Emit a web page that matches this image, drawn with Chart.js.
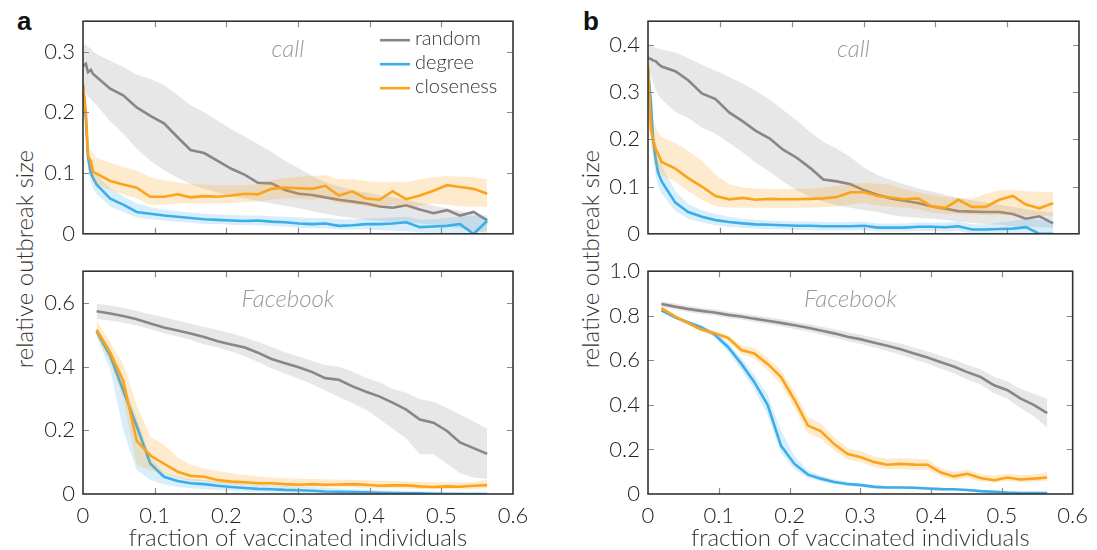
<!DOCTYPE html>
<html>
<head>
<meta charset="utf-8">
<script src="https://cdn.jsdelivr.net/npm/chart.js@4.4.1/dist/chart.umd.min.js"></script>
<style>
  body { margin: 0; background: #fff; }
  #page { position: relative; width: 1097px; height: 550px; overflow: hidden; font-family: Lato, "Open Sans", sans-serif; }
  canvas { position: absolute; }
  .tag { position: absolute; font-family: "Liberation Sans", Arial, sans-serif; font-weight: bold; font-size: 26px; color: #111; }
  .ytitle { position: absolute; width: 300px; text-align: center; font-weight: 300; font-size: 24px; color: #333;
            transform: translate(-50%, -50%) rotate(-90deg); white-space: nowrap; }
</style>
</head>
<body>
<div id="page">
  <div class="tag" style="left:17px;top:6px">a</div>
  <div class="tag" style="left:583px;top:6px">b</div>
  <div class="ytitle" style="left:23px;top:259px">relative outbreak size</div>
  <div class="ytitle" style="left:589px;top:259px">relative outbreak size</div>
  <canvas id="aCall" width="560" height="255" style="left:0;top:0"></canvas>
  <canvas id="aFb" width="560" height="300" style="left:0;top:250px"></canvas>
  <canvas id="bCall" width="537" height="255" style="left:560px;top:0"></canvas>
  <canvas id="bFb" width="537" height="300" style="left:560px;top:250px"></canvas>
</div>
<script>
// fraction of vaccinated individuals
const xsMain = [0.019, 0.038, 0.056, 0.075, 0.094, 0.113, 0.132, 0.150, 0.169, 0.188,
                0.207, 0.226, 0.244, 0.263, 0.282, 0.301, 0.320, 0.338, 0.357, 0.376,
                0.395, 0.414, 0.432, 0.451, 0.470, 0.489, 0.508, 0.526, 0.545, 0.564];
// call networks are also sampled close to zero
const xsCall = [0, 0.004, 0.007, 0.011, 0.014].concat(xsMain);

// (a) call
const aCallRandom   = [0.276, 0.280, 0.266, 0.270, 0.263, 0.258, 0.239, 0.228, 0.208, 0.194, 0.182, 0.159, 0.138, 0.133, 0.120, 0.107, 0.097, 0.084, 0.083, 0.072, 0.066, 0.064, 0.060, 0.056, 0.053, 0.050, 0.045, 0.043, 0.047, 0.040, 0.034, 0.039, 0.030, 0.036, 0.022];
const aCallRandomHi = [0.310, 0.312, 0.308, 0.305, 0.300, 0.296, 0.285, 0.275, 0.262, 0.255, 0.245, 0.228, 0.212, 0.200, 0.186, 0.172, 0.160, 0.148, 0.135, 0.120, 0.108, 0.095, 0.085, 0.078, 0.072, 0.068, 0.064, 0.060, 0.056, 0.051, 0.046, 0.042, 0.038, 0.032, 0.026];
const aCallRandomLo = [0.240, 0.232, 0.226, 0.222, 0.218, 0.212, 0.185, 0.165, 0.140, 0.120, 0.105, 0.092, 0.082, 0.074, 0.068, 0.062, 0.058, 0.054, 0.050, 0.046, 0.042, 0.037, 0.033, 0.029, 0.026, 0.023, 0.021, 0.020, 0.019, 0.017, 0.015, 0.012, 0.009, 0.005, 0.001];
const aCallDegree   = [0.245, 0.190, 0.125, 0.100, 0.092, 0.081, 0.058, 0.048, 0.036, 0.033, 0.030, 0.028, 0.026, 0.024, 0.023, 0.022, 0.021, 0.022, 0.020, 0.019, 0.017, 0.016, 0.017, 0.013, 0.014, 0.016, 0.016, 0.017, 0.019, 0.011, 0.012, 0.013, 0.016, 0.000, 0.021];
const aCallDegreeHi = [0.248, 0.210, 0.145, 0.122, 0.110, 0.098, 0.075, 0.062, 0.050, 0.044, 0.040, 0.037, 0.035, 0.033, 0.032, 0.031, 0.030, 0.030, 0.029, 0.028, 0.027, 0.026, 0.026, 0.024, 0.024, 0.025, 0.026, 0.027, 0.028, 0.024, 0.024, 0.026, 0.028, 0.030, 0.030];
const aCallDegreeLo = [0.240, 0.165, 0.105, 0.085, 0.075, 0.065, 0.045, 0.036, 0.027, 0.024, 0.022, 0.020, 0.018, 0.016, 0.016, 0.015, 0.014, 0.014, 0.013, 0.012, 0.010, 0.009, 0.009, 0.007, 0.007, 0.007, 0.006, 0.005, 0.004, 0.002, 0.001, 0.000, 0.000, 0.000, 0.005];
const aCallClose    = [0.246, 0.200, 0.128, 0.120, 0.102, 0.099, 0.087, 0.081, 0.076, 0.061, 0.061, 0.065, 0.060, 0.062, 0.061, 0.063, 0.066, 0.065, 0.074, 0.076, 0.075, 0.074, 0.079, 0.063, 0.070, 0.058, 0.056, 0.070, 0.057, 0.063, 0.071, 0.080, 0.077, 0.074, 0.066];
const aCallCloseHi  = [0.250, 0.215, 0.145, 0.138, 0.133, 0.125, 0.117, 0.110, 0.104, 0.093, 0.088, 0.085, 0.082, 0.081, 0.080, 0.080, 0.080, 0.082, 0.088, 0.092, 0.094, 0.095, 0.097, 0.090, 0.090, 0.087, 0.085, 0.086, 0.085, 0.090, 0.093, 0.095, 0.094, 0.093, 0.090];
const aCallCloseLo  = [0.240, 0.185, 0.110, 0.100, 0.088, 0.082, 0.072, 0.065, 0.058, 0.048, 0.048, 0.050, 0.050, 0.050, 0.050, 0.050, 0.052, 0.053, 0.056, 0.058, 0.058, 0.056, 0.058, 0.050, 0.050, 0.045, 0.044, 0.048, 0.045, 0.046, 0.050, 0.048, 0.045, 0.045, 0.044];

// (a) Facebook
const aFbRandom   = [0.574, 0.567, 0.559, 0.549, 0.536, 0.523, 0.514, 0.504, 0.493, 0.480, 0.470, 0.460, 0.444, 0.424, 0.411, 0.398, 0.383, 0.364, 0.359, 0.338, 0.321, 0.306, 0.287, 0.265, 0.234, 0.224, 0.198, 0.162, 0.144, 0.126];
const aFbRandomHi = [0.598, 0.592, 0.585, 0.575, 0.565, 0.555, 0.545, 0.535, 0.525, 0.515, 0.505, 0.492, 0.478, 0.462, 0.445, 0.432, 0.418, 0.405, 0.400, 0.385, 0.365, 0.350, 0.330, 0.318, 0.298, 0.290, 0.270, 0.250, 0.228, 0.205];
const aFbRandomLo = [0.550, 0.545, 0.538, 0.530, 0.518, 0.505, 0.495, 0.485, 0.470, 0.460, 0.448, 0.432, 0.415, 0.395, 0.378, 0.362, 0.345, 0.325, 0.305, 0.285, 0.265, 0.235, 0.205, 0.175, 0.125, 0.125, 0.095, 0.065, 0.052, 0.048];
const aFbDegree   = [0.511, 0.434, 0.326, 0.213, 0.095, 0.054, 0.041, 0.034, 0.031, 0.026, 0.022, 0.019, 0.016, 0.015, 0.013, 0.012, 0.010, 0.008, 0.007, 0.006, 0.005, 0.004, 0.003, 0.002, 0.002, 0.001, 0.000, 0.000, 0.000, 0.000];
const aFbDegreeHi = [0.525, 0.455, 0.350, 0.240, 0.115, 0.068, 0.055, 0.048, 0.044, 0.040, 0.036, 0.032, 0.029, 0.027, 0.025, 0.023, 0.021, 0.019, 0.017, 0.015, 0.013, 0.012, 0.011, 0.010, 0.009, 0.008, 0.006, 0.005, 0.004, 0.004];
const aFbDegreeLo = [0.495, 0.390, 0.200, 0.075, 0.045, 0.030, 0.022, 0.018, 0.015, 0.012, 0.010, 0.008, 0.006, 0.005, 0.004, 0.003, 0.002, 0.001, 0.000, 0.000, 0.000, 0.000, 0.000, 0.000, 0.000, 0.000, 0.000, 0.000, 0.000, 0.000];
const aFbClose    = [0.516, 0.444, 0.357, 0.167, 0.121, 0.095, 0.070, 0.057, 0.054, 0.044, 0.039, 0.037, 0.034, 0.034, 0.031, 0.029, 0.031, 0.029, 0.030, 0.031, 0.029, 0.026, 0.027, 0.027, 0.024, 0.022, 0.024, 0.023, 0.026, 0.028];
const aFbCloseHi  = [0.545, 0.475, 0.410, 0.280, 0.180, 0.155, 0.115, 0.092, 0.080, 0.072, 0.065, 0.060, 0.056, 0.052, 0.050, 0.048, 0.047, 0.046, 0.045, 0.045, 0.043, 0.042, 0.041, 0.040, 0.038, 0.037, 0.037, 0.036, 0.038, 0.045];
const aFbCloseLo  = [0.495, 0.415, 0.300, 0.090, 0.075, 0.065, 0.050, 0.042, 0.040, 0.033, 0.030, 0.028, 0.026, 0.025, 0.022, 0.021, 0.022, 0.020, 0.021, 0.021, 0.019, 0.017, 0.017, 0.017, 0.015, 0.014, 0.015, 0.015, 0.016, 0.018];

// (b) call
const bCallRandom   = [0.372, 0.370, 0.367, 0.365, 0.360, 0.354, 0.344, 0.325, 0.297, 0.285, 0.257, 0.238, 0.218, 0.202, 0.178, 0.161, 0.139, 0.115, 0.111, 0.105, 0.092, 0.082, 0.075, 0.070, 0.065, 0.058, 0.053, 0.048, 0.047, 0.046, 0.046, 0.042, 0.032, 0.037, 0.022];
const bCallRandomHi = [0.400, 0.398, 0.396, 0.394, 0.392, 0.390, 0.384, 0.372, 0.358, 0.345, 0.332, 0.318, 0.302, 0.285, 0.262, 0.240, 0.215, 0.195, 0.180, 0.162, 0.140, 0.124, 0.114, 0.105, 0.096, 0.090, 0.082, 0.076, 0.071, 0.066, 0.061, 0.057, 0.052, 0.048, 0.045];
const bCallRandomLo = [0.345, 0.335, 0.320, 0.305, 0.295, 0.285, 0.258, 0.245, 0.225, 0.212, 0.192, 0.172, 0.150, 0.132, 0.110, 0.092, 0.078, 0.068, 0.060, 0.055, 0.050, 0.046, 0.040, 0.036, 0.034, 0.032, 0.029, 0.026, 0.023, 0.021, 0.019, 0.016, 0.015, 0.014, 0.013];
const bCallDegree   = [0.350, 0.280, 0.200, 0.155, 0.130, 0.111, 0.066, 0.046, 0.036, 0.029, 0.025, 0.022, 0.020, 0.019, 0.018, 0.017, 0.017, 0.016, 0.016, 0.016, 0.017, 0.013, 0.013, 0.013, 0.015, 0.015, 0.014, 0.016, 0.009, 0.009, 0.010, 0.011, 0.014, 0.000, 0.000];
const bCallDegreeHi = [0.355, 0.300, 0.235, 0.190, 0.165, 0.145, 0.090, 0.063, 0.050, 0.042, 0.036, 0.032, 0.030, 0.028, 0.027, 0.026, 0.026, 0.025, 0.025, 0.025, 0.026, 0.022, 0.022, 0.022, 0.024, 0.024, 0.024, 0.026, 0.020, 0.020, 0.024, 0.027, 0.032, 0.030, 0.025];
const bCallDegreeLo = [0.345, 0.255, 0.165, 0.120, 0.100, 0.085, 0.048, 0.032, 0.024, 0.018, 0.015, 0.013, 0.011, 0.010, 0.009, 0.008, 0.008, 0.007, 0.007, 0.007, 0.008, 0.005, 0.005, 0.005, 0.006, 0.006, 0.005, 0.006, 0.000, 0.000, 0.000, 0.000, 0.000, 0.000, 0.000];
const bCallClose    = [0.357, 0.220, 0.200, 0.178, 0.170, 0.152, 0.138, 0.118, 0.100, 0.080, 0.073, 0.076, 0.072, 0.074, 0.073, 0.073, 0.074, 0.075, 0.078, 0.088, 0.088, 0.080, 0.077, 0.073, 0.075, 0.058, 0.055, 0.072, 0.057, 0.057, 0.072, 0.080, 0.062, 0.054, 0.065];
const bCallCloseHi  = [0.360, 0.270, 0.245, 0.225, 0.215, 0.205, 0.192, 0.175, 0.155, 0.125, 0.105, 0.098, 0.096, 0.095, 0.095, 0.095, 0.096, 0.098, 0.102, 0.106, 0.108, 0.106, 0.104, 0.095, 0.088, 0.082, 0.078, 0.076, 0.074, 0.085, 0.092, 0.092, 0.090, 0.089, 0.088];
const bCallCloseLo  = [0.350, 0.190, 0.165, 0.145, 0.135, 0.125, 0.110, 0.090, 0.072, 0.058, 0.055, 0.055, 0.055, 0.055, 0.055, 0.055, 0.055, 0.056, 0.058, 0.062, 0.065, 0.060, 0.058, 0.055, 0.052, 0.045, 0.042, 0.042, 0.040, 0.040, 0.040, 0.039, 0.038, 0.038, 0.038];

// (b) Facebook
const bFbRandom   = [0.853, 0.841, 0.831, 0.822, 0.815, 0.804, 0.797, 0.787, 0.778, 0.768, 0.757, 0.746, 0.734, 0.721, 0.706, 0.694, 0.679, 0.665, 0.650, 0.631, 0.613, 0.591, 0.572, 0.547, 0.525, 0.488, 0.466, 0.429, 0.400, 0.363];
const bFbRandomHi = [0.866, 0.855, 0.845, 0.836, 0.829, 0.818, 0.811, 0.802, 0.793, 0.784, 0.773, 0.763, 0.752, 0.740, 0.726, 0.715, 0.701, 0.688, 0.675, 0.657, 0.640, 0.620, 0.602, 0.580, 0.560, 0.525, 0.505, 0.472, 0.450, 0.428];
const bFbRandomLo = [0.840, 0.828, 0.817, 0.808, 0.801, 0.790, 0.783, 0.772, 0.763, 0.752, 0.741, 0.729, 0.716, 0.702, 0.686, 0.673, 0.657, 0.642, 0.625, 0.605, 0.586, 0.562, 0.542, 0.514, 0.490, 0.452, 0.427, 0.386, 0.350, 0.298];
const bFbDegree   = [0.824, 0.793, 0.771, 0.749, 0.716, 0.660, 0.584, 0.503, 0.400, 0.216, 0.135, 0.087, 0.069, 0.054, 0.045, 0.040, 0.032, 0.029, 0.029, 0.028, 0.025, 0.022, 0.021, 0.018, 0.013, 0.010, 0.006, 0.004, 0.004, 0.004];
const bFbDegreeHi = [0.830, 0.800, 0.780, 0.758, 0.728, 0.680, 0.610, 0.535, 0.445, 0.285, 0.170, 0.105, 0.082, 0.065, 0.055, 0.048, 0.040, 0.036, 0.035, 0.034, 0.031, 0.028, 0.026, 0.023, 0.018, 0.015, 0.011, 0.009, 0.008, 0.008];
const bFbDegreeLo = [0.818, 0.786, 0.762, 0.738, 0.702, 0.640, 0.555, 0.470, 0.355, 0.185, 0.110, 0.072, 0.057, 0.044, 0.036, 0.032, 0.025, 0.022, 0.022, 0.021, 0.019, 0.016, 0.015, 0.012, 0.008, 0.005, 0.002, 0.000, 0.000, 0.000];
const bFbClose    = [0.834, 0.797, 0.768, 0.738, 0.721, 0.701, 0.646, 0.631, 0.584, 0.525, 0.422, 0.307, 0.282, 0.224, 0.179, 0.165, 0.143, 0.131, 0.135, 0.132, 0.131, 0.096, 0.079, 0.091, 0.072, 0.062, 0.074, 0.065, 0.069, 0.074];
const bFbCloseHi  = [0.842, 0.805, 0.776, 0.748, 0.732, 0.715, 0.665, 0.655, 0.610, 0.555, 0.460, 0.345, 0.318, 0.255, 0.205, 0.192, 0.168, 0.158, 0.160, 0.158, 0.155, 0.115, 0.100, 0.110, 0.090, 0.082, 0.092, 0.085, 0.088, 0.098];
const bFbCloseLo  = [0.826, 0.789, 0.760, 0.728, 0.710, 0.688, 0.628, 0.608, 0.558, 0.492, 0.385, 0.272, 0.248, 0.195, 0.155, 0.142, 0.120, 0.110, 0.112, 0.108, 0.108, 0.078, 0.062, 0.072, 0.056, 0.050, 0.058, 0.052, 0.056, 0.058];

const xTicks = [0, 0.1, 0.2, 0.3, 0.4, 0.5, 0.6];

const COLORS = {
  random:    { line: '#8d8487', band: 'rgba(175,175,175,0.30)' },
  degree:    { line: '#3badea', band: 'rgba(59,173,234,0.20)' },
  closeness: { line: '#fca31c', band: 'rgba(252,163,28,0.22)' }
};
const FONT = 'Lato, "Open Sans", sans-serif';

// band (upper + lower filled) followed by the mean line, per strategy
function strategySets(name, xs, mean, hi, lo, order) {
  const pts = arr => arr.map((y, i) => ({ x: xs[i], y: y }));
  const c = COLORS[name];
  return [
    { data: pts(hi), borderWidth: 0, pointRadius: 0, fill: false, order: order + 2 },
    { data: pts(lo), borderWidth: 0, pointRadius: 0, fill: '-1', backgroundColor: c.band, order: order + 1 },
    { label: name, data: pts(mean), borderColor: c.line, borderWidth: 2.6, pointRadius: 0,
      fill: false, tension: 0, order: order }
  ];
}

// box around the plot with inward tick marks on all four sides
const framePlugin = {
  id: 'frame',
  afterDatasetsDraw(chart) {
    const { ctx, chartArea: a } = chart;
    const x = chart.scales.x, y = chart.scales.y;
    const len = 6;
    ctx.save();
    ctx.strokeStyle = '#8a8a8a';
    ctx.lineWidth = 1.2;
    ctx.beginPath();
    x.ticks.forEach(t => {
      if (t.value <= x.min || t.value >= x.max) return;
      const px = Math.round(x.getPixelForValue(t.value)) + 0.5;
      ctx.moveTo(px, a.top); ctx.lineTo(px, a.top + len);
      ctx.moveTo(px, a.bottom); ctx.lineTo(px, a.bottom - len);
    });
    y.ticks.forEach(t => {
      if (t.value <= y.min || t.value >= y.max) return;
      const py = Math.round(y.getPixelForValue(t.value)) + 0.5;
      ctx.moveTo(a.left, py); ctx.lineTo(a.left + len, py);
      ctx.moveTo(a.right, py); ctx.lineTo(a.right - len, py);
    });
    ctx.stroke();
    ctx.strokeStyle = '#333';
    ctx.lineWidth = 1.6;
    ctx.strokeRect(a.left, a.top, a.right - a.left, a.bottom - a.top);
    ctx.restore();
  }
};

// network name written inside the plot
const namePlugin = {
  id: 'networkName',
  afterDraw(chart, args, opts) {
    if (!opts.text) return;
    const { ctx, chartArea: a } = chart;
    ctx.save();
    ctx.font = 'italic 300 24px ' + FONT;
    ctx.fillStyle = '#999';
    ctx.textAlign = 'center';
    ctx.textBaseline = 'middle';
    ctx.fillText(opts.text, chart.scales.x.getPixelForValue(opts.at), a.top + opts.dy);
    ctx.restore();
  }
};

// legend drawn in the top right corner of the first panel
const keyPlugin = {
  id: 'strategyKey',
  afterDraw(chart, args, opts) {
    if (!opts.show) return;
    const { ctx, chartArea: a } = chart;
    const items = chart.data.datasets.filter(d => d.label).sort((p, q) => q.order - p.order);
    ctx.save();
    ctx.font = '300 20px ' + FONT;
    ctx.textBaseline = 'middle';
    items.forEach((d, i) => {
      const yy = a.top + 17 + i * 24;
      const x0 = a.right - 133;
      ctx.strokeStyle = d.borderColor;
      ctx.lineWidth = 2.6;
      ctx.beginPath(); ctx.moveTo(x0, yy + 2); ctx.lineTo(x0 + 30, yy + 2); ctx.stroke();
      ctx.fillStyle = '#333';
      ctx.fillText(d.label, x0 + 35, yy);
    });
    ctx.restore();
  }
};

function tickText(v) {
  return v === 0 ? '0' : v.toFixed(1);
}

function makePanel(id, cfg) {
  const datasets = []
    .concat(strategySets('random', cfg.xs, cfg.random[0], cfg.random[1], cfg.random[2], 6))
    .concat(strategySets('degree', cfg.xs, cfg.degree[0], cfg.degree[1], cfg.degree[2], 3))
    .concat(strategySets('closeness', cfg.xs, cfg.close[0], cfg.close[1], cfg.close[2], 0));

  return new Chart(document.getElementById(id), {
    type: 'line',
    data: { datasets: datasets },
    plugins: [framePlugin, namePlugin, keyPlugin],
    options: {
      responsive: false,
      animation: false,
      devicePixelRatio: 1,
      layout: { padding: cfg.padding },
      plugins: {
        legend: { display: false },
        tooltip: { enabled: false },
        networkName: { text: cfg.name, at: 0.286, dy: 28 },
        strategyKey: { show: !!cfg.key }
      },
      scales: {
        x: {
          type: 'linear', min: 0, max: 0.6,
          afterBuildTicks: s => { s.ticks = xTicks.map(v => ({ value: v })); },
          grid: { display: false, drawTicks: false },
          border: { display: false },
          ticks: {
            display: cfg.xLabels, padding: 9, color: '#222', maxRotation: 0,
            font: { family: FONT, size: 22, weight: '300' },
            callback: tickText
          },
          title: {
            display: cfg.xLabels, text: 'fraction of vaccinated individuals', color: '#333',
            font: { family: FONT, size: 24, weight: '300', lineHeight: 1 }, padding: 0
          },
          afterFit: s => { s.height = cfg.xHeight; }
        },
        y: {
          type: 'linear', min: 0, max: cfg.yMax,
          grid: { display: false, drawTicks: false },
          border: { display: false },
          ticks: {
            stepSize: cfg.yStep, includeBounds: false, padding: 8, color: '#222',
            font: { family: FONT, size: 22, weight: '300' },
            callback: tickText
          },
          afterFit: s => { s.width = cfg.yWidth; }
        }
      }
    }
  });
}

makePanel('aCall', {
  xs: xsCall, name: 'call', key: true, xLabels: false, xHeight: 14, yWidth: 83,
  yMax: 0.35, yStep: 0.1, padding: { top: 15, right: 47, left: 0, bottom: 0 },
  random: [aCallRandom, aCallRandomHi, aCallRandomLo],
  degree: [aCallDegree, aCallDegreeHi, aCallDegreeLo],
  close:  [aCallClose, aCallCloseHi, aCallCloseLo]
});
makePanel('aFb', {
  xs: xsMain, name: 'Facebook', key: false, xLabels: true, xHeight: 56, yWidth: 83,
  yMax: 0.7, yStep: 0.2, padding: { top: 17, right: 47, left: 0, bottom: 0 },
  random: [aFbRandom, aFbRandomHi, aFbRandomLo],
  degree: [aFbDegree, aFbDegreeHi, aFbDegreeLo],
  close:  [aFbClose, aFbCloseHi, aFbCloseLo]
});
makePanel('bCall', {
  xs: xsCall, name: 'call', key: false, xLabels: false, xHeight: 14, yWidth: 88,
  yMax: 0.45, yStep: 0.1, padding: { top: 15, right: 18, left: 0, bottom: 0 },
  random: [bCallRandom, bCallRandomHi, bCallRandomLo],
  degree: [bCallDegree, bCallDegreeHi, bCallDegreeLo],
  close:  [bCallClose, bCallCloseHi, bCallCloseLo]
});
makePanel('bFb', {
  xs: xsMain, name: 'Facebook', key: false, xLabels: true, xHeight: 56, yWidth: 88,
  yMax: 1.0, yStep: 0.2, padding: { top: 17, right: 18, left: 0, bottom: 0 },
  random: [bFbRandom, bFbRandomHi, bFbRandomLo],
  degree: [bFbDegree, bFbDegreeHi, bFbDegreeLo],
  close:  [bFbClose, bFbCloseHi, bFbCloseLo]
});
</script>
</body>
</html>
